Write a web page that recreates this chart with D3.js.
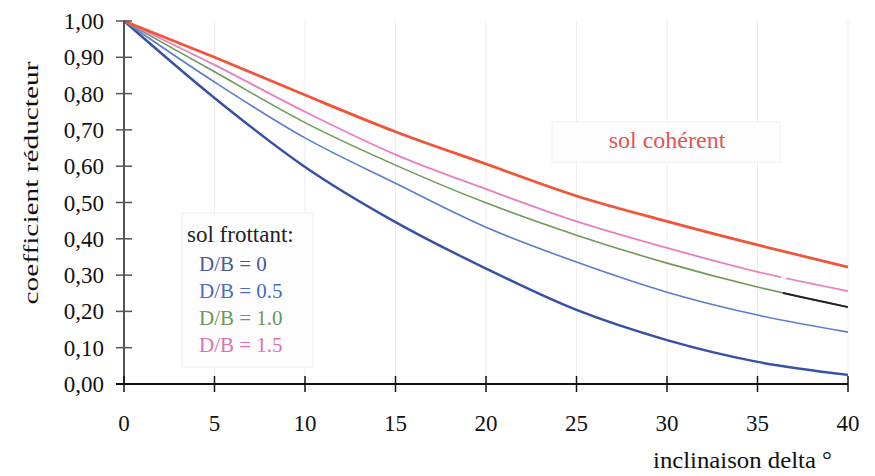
<!DOCTYPE html>
<html>
<head>
<meta charset="utf-8">
<script src="https://cdn.jsdelivr.net/npm/d3@7"></script>
<style>
	body { margin: 0; background: #fff; }
	text { font-family: "Liberation Serif", "Times New Roman", serif; }
</style>
</head>
<body>
<div id="chart"></div>
<script>
// inclinaison delta (degrés)
var deltas     = [0, 5, 10, 15, 20, 25, 30, 35, 40];
// sol cohérent
var coherent   = [1.00, 0.900, 0.796, 0.695, 0.606, 0.518, 0.448, 0.383, 0.322];
// sol frottant, par D/B
var db15       = [1.00, 0.879, 0.750, 0.632, 0.537, 0.448, 0.375, 0.309, 0.256];
var db10       = [1.00, 0.860, 0.720, 0.603, 0.499, 0.410, 0.333, 0.267, 0.212];
var db05       = [1.00, 0.832, 0.678, 0.553, 0.432, 0.336, 0.253, 0.190, 0.143];
var db0        = [1.00, 0.788, 0.598, 0.446, 0.318, 0.204, 0.121, 0.061, 0.025];

var yTicks     = [0, 0.1, 0.2, 0.3, 0.4, 0.5, 0.6, 0.7, 0.8, 0.9, 1.0];
var legendLbls = ["D/B = 0", "D/B = 0.5", "D/B = 1.0", "D/B = 1.5"];

var width  = 875,
	height = 476;

var x = d3.scaleLinear().domain([0, 40]).range([124, 848]);
var y = d3.scaleLinear().domain([0, 1]).range([384, 21]);

var svg = d3.select("#chart").append("svg")
	.attr("width", width)
	.attr("height", height);

// faint vertical grid
svg.append("g")
	.selectAll("line")
	.data(deltas.filter(function(d) { return d > 0; }))
	.enter().append("line")
	.attr("x1", function(d) { return x(d); })
	.attr("x2", function(d) { return x(d); })
	.attr("y1", y(1))
	.attr("y2", y(0))
	.attr("stroke", "#ededed")
	.attr("stroke-width", 1);

// legend boxes
svg.append("rect")
	.attr("x", 182).attr("y", 213).attr("width", 131).attr("height", 154)
	.attr("fill", "#fdfdfd").attr("stroke", "#eeeeee");

svg.append("rect")
	.attr("x", 552).attr("y", 122).attr("width", 228).attr("height", 40)
	.attr("fill", "#fdfdfd").attr("stroke", "#f0f0f0");

// series
var series = [
	{values: db0,      color: "#3550a6", w: 2.4},
	{values: db05,     color: "#5b7ccc", w: 1.6},
	{values: db10,     color: "#6f9a5c", w: 1.6},
	{values: db15,     color: "#ea7fbf", w: 1.8},
	{values: coherent, color: "#f25437", w: 2.8}
];

var line = d3.line()
	.x(function(d, i) { return x(deltas[i]); })
	.y(function(d) { return y(d); })
	.curve(d3.curveMonotoneX);

svg.append("g")
	.selectAll("path")
	.data(series)
	.enter().append("path")
	.attr("d", function(d) { return line(d.values); })
	.attr("fill", "none")
	.attr("stroke", function(d) { return d.color; })
	.attr("stroke-width", function(d) { return d.w; });

// black end of D/B = 1.0 curve
svg.append("clipPath").attr("id", "endClip")
	.append("rect")
	.attr("x", x(36.4)).attr("y", 0)
	.attr("width", x(40) - x(36.4) + 2).attr("height", height);

svg.append("path")
	.attr("d", line(db10))
	.attr("fill", "none")
	.attr("stroke", "#222")
	.attr("stroke-width", 1.8)
	.attr("clip-path", "url(#endClip)");

// small gap in D/B = 1.5 curve
svg.append("rect")
	.attr("x", x(36.3)).attr("y", y(0.30) - 3)
	.attr("width", 5).attr("height", 8)
	.attr("fill", "#fff");

// axes
var yAxis = svg.append("g");
yAxis.append("line")
	.attr("x1", x(0)).attr("x2", x(0))
	.attr("y1", y(1)).attr("y2", y(0))
	.attr("stroke", "#555").attr("stroke-width", 2);

yAxis.selectAll(".tk")
	.data(yTicks)
	.enter().append("line")
	.attr("x1", x(0) - 8).attr("x2", x(0) + 8)
	.attr("y1", function(d) { return y(d); })
	.attr("y2", function(d) { return y(d); })
	.attr("stroke", "#555").attr("stroke-width", 1.5);

yAxis.selectAll("text")
	.data(yTicks)
	.enter().append("text")
	.attr("x", 104)
	.attr("y", function(d) { return y(d) + 8; })
	.attr("text-anchor", "end")
	.attr("font-size", 23)
	.attr("fill", "#111")
	.text(function(d) { return d3.format(".2f")(d).replace(".", ","); });

var xAxis = svg.append("g");
xAxis.append("line")
	.attr("x1", x(0) - 8).attr("x2", x(40))
	.attr("y1", y(0)).attr("y2", y(0))
	.attr("stroke", "#111").attr("stroke-width", 2);

xAxis.selectAll(".tk")
	.data(deltas)
	.enter().append("line")
	.attr("x1", function(d) { return x(d); })
	.attr("x2", function(d) { return x(d); })
	.attr("y1", y(0) - 8).attr("y2", y(0) + 8)
	.attr("stroke", "#111").attr("stroke-width", 1.5);

xAxis.selectAll("text")
	.data(deltas)
	.enter().append("text")
	.attr("x", function(d) { return x(d); })
	.attr("y", 431)
	.attr("text-anchor", "middle")
	.attr("font-size", 23)
	.attr("fill", "#111")
	.text(function(d) { return d; });

// axis titles
svg.append("text")
	.attr("x", 653).attr("y", 468)
	.attr("font-size", 23)
	.attr("textLength", 179)
	.attr("lengthAdjust", "spacingAndGlyphs")
	.attr("fill", "#111")
	.text("inclinaison delta °");

svg.append("text")
	.attr("transform", "translate(38,183) rotate(-90)")
	.attr("text-anchor", "middle")
	.attr("font-size", 22)
	.attr("textLength", 243)
	.attr("lengthAdjust", "spacingAndGlyphs")
	.attr("fill", "#111")
	.text("coefficient réducteur");

// legend texts
svg.append("text")
	.attr("x", 667).attr("y", 148)
	.attr("text-anchor", "middle")
	.attr("font-size", 24)
	.attr("fill", "#e25555")
	.text("sol cohérent");

svg.append("text")
	.attr("x", 187).attr("y", 242)
	.attr("font-size", 23)
	.attr("fill", "#222")
	.text("sol frottant:");

var legendColors = ["#4a5a98", "#4a6cc0", "#6a985a", "#e46fb2"];
svg.append("g")
	.selectAll("text")
	.data(legendLbls)
	.enter().append("text")
	.attr("x", 199)
	.attr("y", function(d, i) { return 271 + i * 27; })
	.attr("font-size", 21)
	.attr("fill", function(d, i) { return legendColors[i]; })
	.text(function(d) { return d; });
</script>
</body>
</html>
